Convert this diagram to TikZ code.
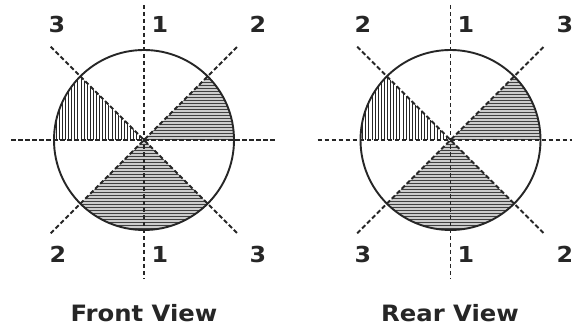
\documentclass[tikz,border=0pt]{standalone}
\usepackage{fontspec}
\setmainfont{DejaVu Sans}
\newfontfamily\labelfont[FakeStretch=1.08]{DejaVu Sans}
\begin{document}
\begin{tikzpicture}[x=1pt,y=1pt,
  dashline/.style={line width=1.8pt, dash pattern=on 4.5pt off 2.5pt, black!85},
  rim/.style={draw=black!85, circle, line width=1.9pt, minimum size=180pt, inner sep=0pt},
  hfill/.style={fill=gray!40},
  hline/.style={line width=0.8pt, black!75},
  vline/.style={line width=0.9pt, black!85},
  num/.style={font=\labelfont\fontsize{22}{26}\selectfont\bfseries, text=black!85, anchor=base, inner sep=0pt},
  captext/.style={font=\labelfont\fontsize{22.5}{26}\selectfont\bfseries, text=black!85, anchor=base, inner sep=0pt}]
\useasboundingbox (0,0) rectangle (572,329);
\fill[white] (0,0) rectangle (572,329);
\newcommand{\circview}[2]{%
 \begin{scope}[shift={(#2,189)}]
  \coordinate (#1c) at (0,0);
  % upper-right sector, horizontal hatch
  \fill[hfill] (#1c) -- (0:90) arc[start angle=0,end angle=45,radius=90] -- cycle;
  \begin{scope}
   \clip (#1c) -- (0:90) arc[start angle=0,end angle=45,radius=90] -- cycle;
   \foreach \k in {0,...,22} \draw[hline] (-100,\k*3+1) -- (100,\k*3+1);
  \end{scope}
  % bottom sector, horizontal hatch
  \fill[hfill] (#1c) -- (225:90) arc[start angle=225,end angle=315,radius=90] -- cycle;
  \begin{scope}
   \clip (#1c) -- (225:90) arc[start angle=225,end angle=315,radius=90] -- cycle;
   \foreach \k in {0,...,31} \draw[hline] (-100,-\k*3-1) -- (100,-\k*3-1);
  \end{scope}
  % upper-left sector, vertical hatch
  \begin{scope}
   \clip (#1c) -- (135:90) arc[start angle=135,end angle=180,radius=90] -- cycle;
   \foreach \k in {0,...,32} \draw[vline] (-\k*3.1-1,-5) -- (-\k*3.1-1,100);
  \end{scope}
  \node[rim] (#1rim) at (0,0) {};
  \coordinate (#1n) at (0,135);
  \coordinate (#1s) at (0,-139);
  \coordinate (#1w) at (-133,0);
  \coordinate (#1e) at (133,0);
  \coordinate (#1ne) at (45:132);
  \coordinate (#1nw) at (135:132);
  \coordinate (#1sw) at (225:132);
  \coordinate (#1se) at (315:132);
  \draw[dashline] (#1n) -- (#1s);
  \draw[dashline] (#1w) -- (#1e);
  \draw[dashline] (#1nw) -- (#1se);
  \draw[dashline] (#1sw) -- (#1ne);
 \end{scope}}
\circview{f}{144}
\circview{r}{450.5}
% front labels
\node[num] (f3a) at (57,296) {3};
\node[num] (f1a) at (160,296) {1};
\node[num] (f2a) at (258,296) {2};
\node[num] (f2b) at (58,66) {2};
\node[num] (f1b) at (160,66) {1};
\node[num] (f3b) at (258,66) {3};
% rear labels
\node[num] (r2a) at (363,296) {2};
\node[num] (r1a) at (466,296) {1};
\node[num] (r3a) at (565,296) {3};
\node[num] (r3b) at (363,66) {3};
\node[num] (r1b) at (466,66) {1};
\node[num] (r2b) at (565,66) {2};
% captions
\node[captext] (fcap) at (144,7.5) {Front View};
\node[captext] (rcap) at (450,7.5) {Rear View};
\end{tikzpicture}
\end{document}
